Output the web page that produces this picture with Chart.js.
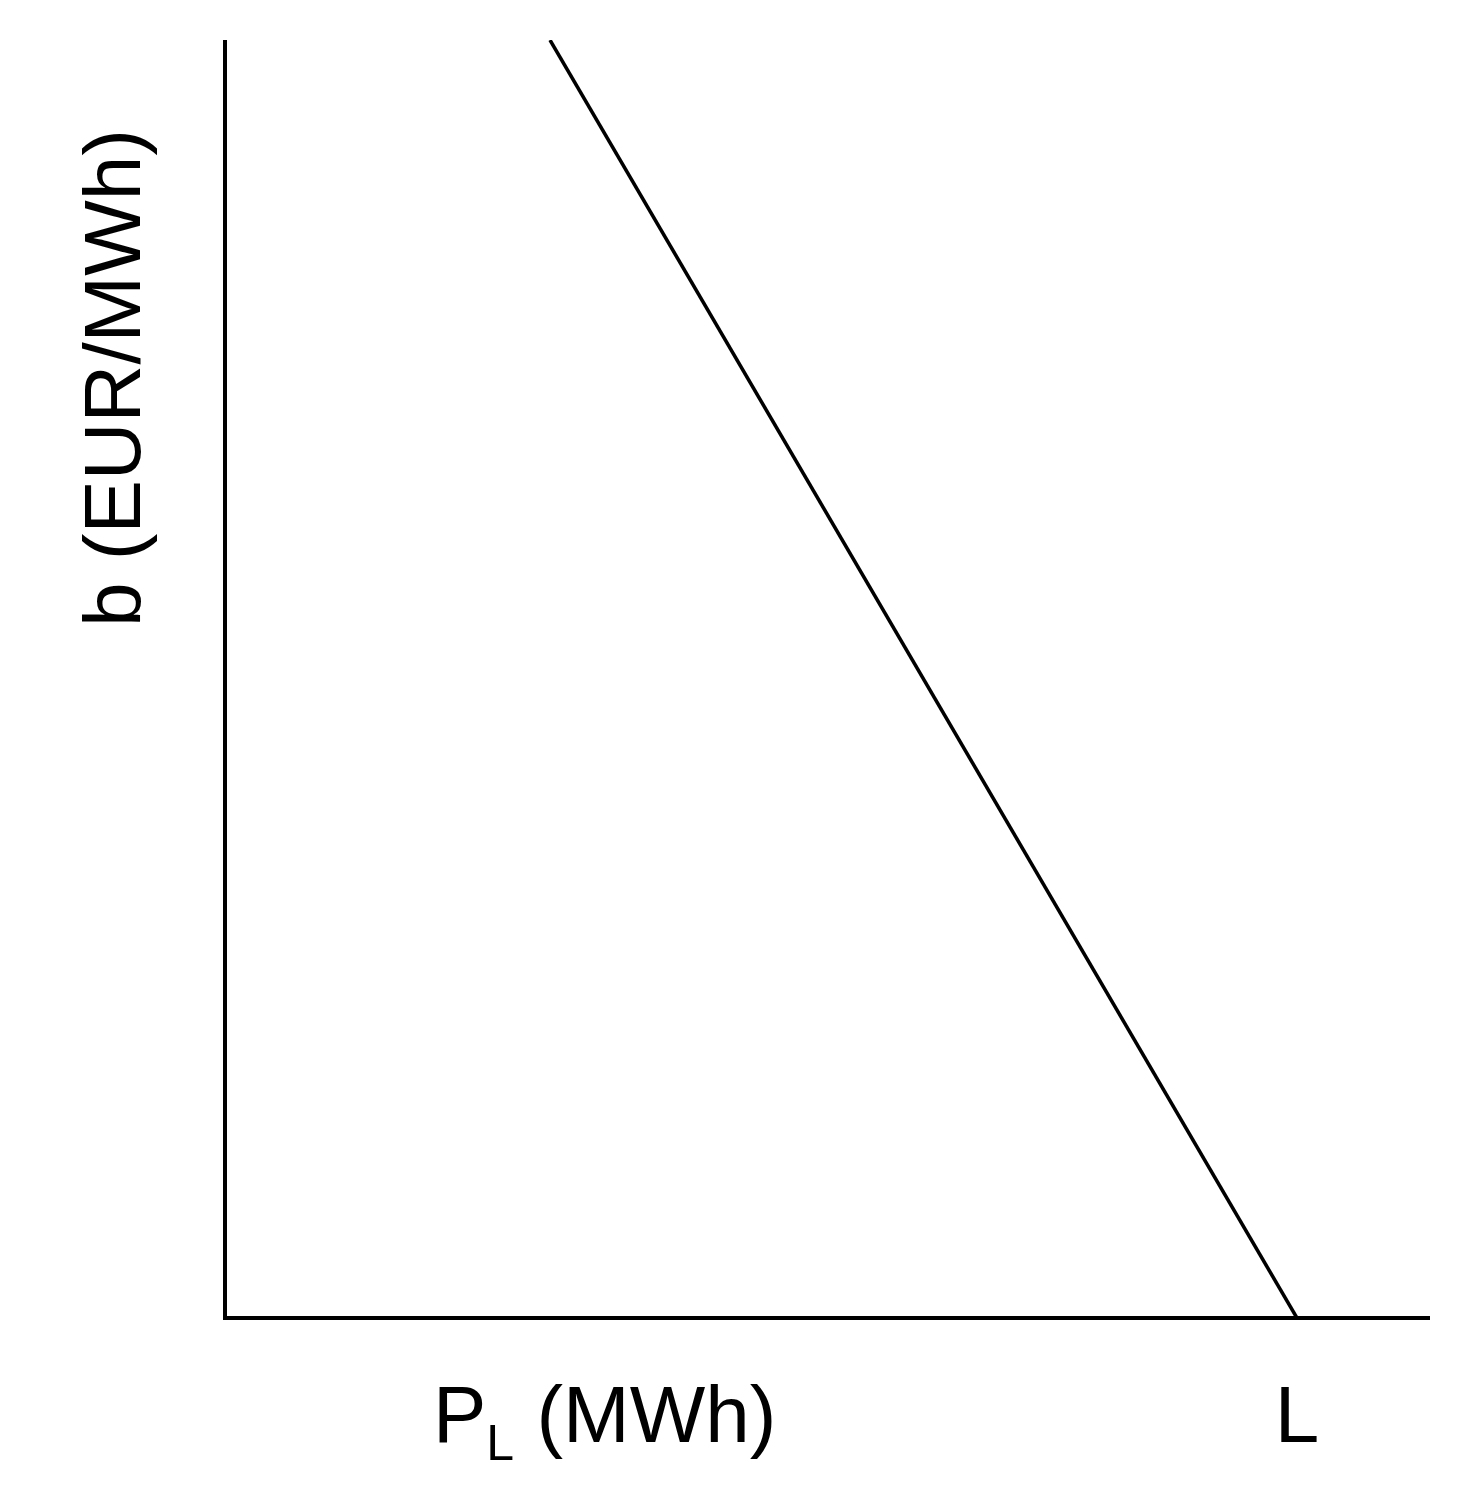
<!DOCTYPE html>
<html>
<head>
<meta charset="utf-8">
<script src="https://cdn.jsdelivr.net/npm/chart.js@4"></script>
<style>
  html, body { margin: 0; padding: 0; background: #fff; }
  canvas { display: block; }
</style>
</head>
<body>
<canvas id="chart" width="1474" height="1498"></canvas>
<script>
// demand curve: price b vs quantity P_L (schematic, axis units 0..100)
const demandX = [26.97, 88.96];
const demandY = [100, 0];
const xTitle = 'P';
const xTitleSub = 'L';
const xTitleRest = ' (MWh)';
const yTitle = 'b (EUR/MWh)';
const endLabel = 'L';

const axesPlugin = {
    id: 'axes',
    afterDraw(chart) {
        const ctx = chart.ctx;
        const x = chart.scales.x, y = chart.scales.y;
        const x0 = x.getPixelForValue(0), x1 = x.getPixelForValue(100);
        const y0 = y.getPixelForValue(0), y1 = y.getPixelForValue(100);
        ctx.save();
        ctx.strokeStyle = '#000';
        ctx.lineWidth = 4;
        ctx.beginPath();
        ctx.moveTo(x0, y1);
        ctx.lineTo(x0, y0);
        ctx.lineTo(x1, y0);
        ctx.stroke();

        ctx.fillStyle = '#000';
        ctx.textBaseline = 'alphabetic';
        const big = '80px "Liberation Sans", Arial, sans-serif';
        // x title with subscript
        ctx.font = big;
        let tx = 433;
        ctx.fillText(xTitle, tx, 1442);
        tx += ctx.measureText(xTitle).width;
        ctx.font = '50px "Liberation Sans", Arial, sans-serif';
        ctx.fillText(xTitleSub, tx, 1460);
        tx += ctx.measureText(xTitleSub).width;
        ctx.font = big;
        ctx.fillText(xTitleRest, tx, 1442);

        // label at the end of the line
        ctx.textAlign = 'center';
        ctx.fillText(endLabel, x.getPixelForValue(demandX[1]), 1442);

        // y title rotated
        ctx.translate(140, 378);
        ctx.rotate(-Math.PI / 2);
        ctx.fillText(yTitle, 0, 0);
        ctx.restore();
    }
};

new Chart(document.getElementById('chart').getContext('2d'), {
    type: 'scatter',
    data: {
        datasets: [{
            data: demandX.map((v, i) => ({ x: v, y: demandY[i] })),
            showLine: true,
            borderColor: '#000',
            borderWidth: 3.5,
            pointRadius: 0,
            fill: false
        }]
    },
    options: {
        responsive: false,
        animation: false,
        layout: { padding: { left: 225, right: 44, top: 40, bottom: 180 } },
        plugins: { legend: { display: false }, tooltip: { enabled: false } },
        scales: {
            x: { type: 'linear', min: 0, max: 100, display: false },
            y: { type: 'linear', min: 0, max: 100, display: false }
        }
    },
    plugins: [axesPlugin]
});
</script>
</body>
</html>
